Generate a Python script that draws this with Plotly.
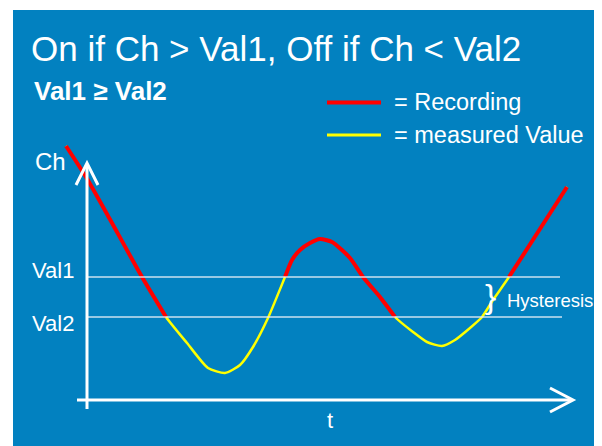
import plotly.graph_objects as go

# ---- data (t in arbitrary time units, Ch in arbitrary channel units) ----
t_vals = [-2.1, -0.1, 2.0, 5.5, 7.9, 10.0, 12.1, 13.8, 15.3, 16.6, 18.1, 19.8, 20.5, 21.3,
          22.3, 23.3, 24.5, 26.3, 27.6, 29.3, 30.8, 32.6, 34.0, 35.5, 36.8, 38.3, 39.5,
          40.6, 42.2, 48.0]
ch_vals = [25.4, 22.3, 18.6, 12.3, 8.3, 5.7, 3.2, 2.7, 3.5, 5.3, 8.2, 12.3, 14.0, 15.0,
           15.7, 16.1, 15.8, 14.2, 12.3, 10.3, 8.3, 6.8, 5.8, 5.4, 6.0, 7.2, 8.3,
           10.0, 12.3, 21.3]
VAL1 = 12.3
VAL2 = 8.3
threshold_labels = ["Val1", "Val2"]
# recording (on) intervals: index ranges into the curve
recording_segments = [(0, 4), (11, 20), (28, 29)]

BLUE = "#0281C0"
RED = "#FF0000"
YELLOW = "#FFFF00"
WHITE = "#FFFFFF"
FONT = "Liberation Sans, Arial, sans-serif"

fig = go.Figure()

# full measured curve (yellow)
fig.add_trace(go.Scatter(x=t_vals, y=ch_vals, mode="lines",
                         line=dict(color=YELLOW, width=2.5, shape="spline", smoothing=0.6),
                         showlegend=False, hoverinfo="skip"))
# recording parts (red)
for a, b in recording_segments:
    fig.add_trace(go.Scatter(x=t_vals[a:b + 1], y=ch_vals[a:b + 1], mode="lines",
                             line=dict(color=RED, width=4, shape="spline", smoothing=0.6),
                             showlegend=False, hoverinfo="skip"))

shapes = []
# threshold lines
shapes.append(dict(type="line", xref="x", yref="y", x0=0, x1=47.3, y0=VAL1, y1=VAL1,
                   line=dict(color="rgba(225,235,245,0.9)", width=1.3)))
shapes.append(dict(type="line", xref="x", yref="y", x0=0, x1=47.5, y0=VAL2, y1=VAL2,
                   line=dict(color="rgba(225,235,245,0.9)", width=1.3)))
# axes with arrows
shapes.append(dict(type="line", xref="x", yref="y", x0=-1.0, x1=48.5, y0=0, y1=0,
                   line=dict(color=WHITE, width=3)))
shapes.append(dict(type="path", xref="x", yref="y",
                   path="M 46.3 1.2 L 48.6 0 L 46.3 -1.2",
                   line=dict(color=WHITE, width=3)))
shapes.append(dict(type="line", xref="x", yref="y", x0=0, x1=0, y0=-0.9, y1=23.6,
                   line=dict(color=WHITE, width=3)))
shapes.append(dict(type="path", xref="x", yref="y",
                   path="M -1.1 21.5 L 0 23.7 L 1.1 21.5",
                   line=dict(color=WHITE, width=3)))
# legend swatches
shapes.append(dict(type="line", xref="x", yref="y", x0=24.0, x1=29.4, y0=29.75, y1=29.75,
                   line=dict(color=RED, width=4)))
shapes.append(dict(type="line", xref="x", yref="y", x0=24.0, x1=29.4, y0=26.5, y1=26.5,
                   line=dict(color=YELLOW, width=3)))

ann = []
def txt(x, y, s, size, xanchor="left", bold=False):
    ann.append(dict(x=x, y=y, xref="x", yref="y", text=("<b>%s</b>" % s) if bold else s,
                    showarrow=False, xanchor=xanchor, yanchor="middle",
                    font=dict(family=FONT, size=size, color=WHITE)))

txt(-5.8, 35.2, "On if Ch &gt; Val1, Off if Ch &lt; Val2", 35)
txt(-5.5, 30.9, "Val1 ≥ Val2", 26, bold=True)
txt(30.5, 29.8, "= Recording", 23.5)
txt(30.5, 26.5, "= measured Value", 23.5)
txt(-5.4, 23.9, "Ch", 24)
txt(-5.7, 13.0, threshold_labels[0], 22)
txt(-5.7, 7.7, threshold_labels[1], 22)
txt(24.3, -2.0, "t", 22, xanchor="center")
txt(41.8, 10.0, "Hysteresis", 18.5)
txt(40.3, 10.4, "}", 34, xanchor="center")

# the page body has an 8px margin, so the figure is sized to fill the window after it
fig.update_layout(
    width=594, height=438,
    margin=dict(l=5, r=0, t=2, b=0),
    paper_bgcolor=WHITE, plot_bgcolor=BLUE,
    shapes=shapes, annotations=ann,
    xaxis=dict(range=[-7.4, 51.5], visible=False, fixedrange=True),
    yaxis=dict(range=[-4.6, 39.0], visible=False, fixedrange=True),
    showlegend=False,
)
fig.write_html("out.html")
